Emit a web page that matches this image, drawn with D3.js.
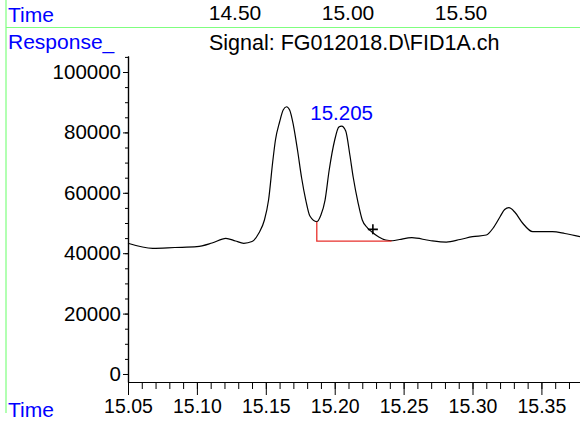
<!DOCTYPE html>
<html>
<head>
<meta charset="utf-8">
<script src="https://cdn.jsdelivr.net/npm/d3@7"></script>
<style>
  body { margin: 0; background: #fff; }
  svg text { font-family: "Liberation Sans", Arial, sans-serif; }
</style>
</head>
<body>
<svg id="chart" width="580" height="421"></svg>
<script>
// chromatogram trace (retention time, response)
const times = [15.050, 15.068, 15.084, 15.100, 15.111, 15.121, 15.128, 15.134, 15.140, 15.145,
    15.149, 15.152, 15.155, 15.157, 15.160, 15.1626, 15.165, 15.1673, 15.170, 15.173,
    15.176, 15.179, 15.182, 15.187, 15.190, 15.193, 15.196, 15.200, 15.203, 15.205,
    15.208, 15.211, 15.2134, 15.217, 15.220, 15.2239, 15.227, 15.232, 15.237, 15.242,
    15.247, 15.256, 15.269, 15.281, 15.291, 15.300, 15.310, 15.315, 15.320, 15.3233,
    15.3264, 15.3306, 15.3363, 15.3437, 15.358, 15.367, 15.378];
const responses = [43300, 41620, 41880, 42150, 43370, 44930, 44040, 43280, 43870, 46690,
    50990, 57610, 70190, 77480, 83440, 87410, 88500, 87410, 82440, 74170,
    64900, 57610, 52310, 50430, 52640, 57610, 67540, 77480, 81780, 82110,
    80460, 72510, 65230, 56620, 50990, 48340, 47020, 45360, 44360, 44130,
    44530, 45130, 44200, 43700, 44530, 45460, 46020, 48340, 52080, 54470,
    55060, 53640, 50000, 47120, 47120, 46520, 45460];

// integration baseline drawn in red
const baseTimes = [15.187, 15.187, 15.2413];
const baseValues = [50430, 44030, 44030];

const peakLabel = {time: 15.205, value: 82110, text: "15.205"};
const cursorMark = {time: 15.2277, value: 47900};

const xMajorTicks = [15.05, 15.10, 15.15, 15.20, 15.25, 15.30, 15.35];
const yMajorTicks = [0, 20000, 40000, 60000, 80000, 100000];
const overviewLabels = ["14.50", "15.00", "15.50"];

const svg = d3.select('#chart');
const green = '#7fff7f';
const blue = '#0000ff';

let x = d3.scaleLinear().domain([15.05, 15.378]).range([128, 580]);
let y = d3.scaleLinear().domain([-2650, 105300]).range([382, 56]);

// frame lines
svg.append('line').attr('x1', 6).attr('x2', 6).attr('y1', 0).attr('y2', 413)
    .attr('stroke', green).attr('stroke-width', 1.2);
svg.append('line').attr('x1', 6).attr('x2', 580).attr('y1', 27.5).attr('y2', 27.5)
    .attr('stroke', green).attr('stroke-width', 1.2);

// header texts
svg.append('text').attr('x', 8).attr('y', 21.5).attr('fill', blue)
    .style('font-size', '21px').text('Time');
svg.append('text').attr('x', 8).attr('y', 49).attr('fill', blue)
    .style('font-size', '21px').text('Response_');
svg.append('text').attr('x', 8).attr('y', 416.5).attr('fill', blue)
    .style('font-size', '21px').text('Time');

svg.selectAll('.overview').data(overviewLabels).enter().append('text')
    .attr('class', 'overview')
    .attr('x', (d, i) => 235 + i * 113)
    .attr('y', 19.5)
    .attr('text-anchor', 'middle')
    .style('font-size', '21px')
    .text(d => d);

svg.append('text').attr('x', 209).attr('y', 49.5)
    .style('font-size', '21.5px').text('Signal: FG012018.D\\FID1A.ch');

// x axis: minor then major ticks
let xMinor = d3.axisBottom(x).tickValues(d3.range(15.05, 15.3781, 0.01))
    .tickSize(7).tickSizeOuter(0).tickFormat('');
svg.append('g').attr('transform', 'translate(0,382)').call(xMinor);

let xMajor = d3.axisBottom(x).tickValues(xMajorTicks)
    .tickSize(13).tickSizeOuter(0).tickPadding(4).tickFormat(d3.format('.2f'));
let gx = svg.append('g').attr('transform', 'translate(0,382)').call(xMajor);
gx.selectAll('text').style('font-size', '19.5px').attr('fill', '#000');

// y axis
let yMinor = d3.axisLeft(y).tickValues(d3.range(0, 105001, 5000))
    .tickSize(3).tickSizeOuter(0).tickFormat('');
svg.append('g').attr('transform', 'translate(128,0)').call(yMinor);

let yMajor = d3.axisLeft(y).tickValues(yMajorTicks)
    .tickSize(5).tickSizeOuter(0).tickPadding(2).tickFormat(d3.format('d'));
let gy = svg.append('g').attr('transform', 'translate(128,0)').call(yMajor);
gy.selectAll('text').style('font-size', '20.5px').attr('fill', '#000');

svg.selectAll('.domain').attr('stroke', '#000').attr('stroke-width', 1.2);
svg.selectAll('.tick line').attr('stroke', '#000');

// trace
const trace = times.map((t, i) => ({t: t, v: responses[i]}));
let line = d3.line().x(d => x(d.t)).y(d => y(d.v)).curve(d3.curveMonotoneX);
svg.append('path').datum(trace)
    .attr('d', line)
    .attr('fill', 'none')
    .attr('stroke', '#000')
    .attr('stroke-width', 1.2);

// red baseline
const base = baseTimes.map((t, i) => ({t: t, v: baseValues[i]}));
svg.append('path').datum(base)
    .attr('d', d3.line().x(d => x(d.t)).y(d => y(d.v)))
    .attr('fill', 'none')
    .attr('stroke', '#e8302c')
    .attr('stroke-width', 1.3);

// peak label
svg.append('text')
    .attr('x', x(peakLabel.time))
    .attr('y', y(peakLabel.value) - 6)
    .attr('text-anchor', 'middle')
    .attr('fill', blue)
    .style('font-size', '20.5px')
    .text(peakLabel.text);

// cursor cross
let cx = x(cursorMark.time), cy = y(cursorMark.value);
svg.append('path')
    .attr('d', 'M' + (cx - 5) + ',' + cy + 'H' + (cx + 5) + 'M' + cx + ',' + (cy - 5) + 'V' + (cy + 5))
    .attr('stroke', '#000')
    .attr('stroke-width', 1.6);
</script>
</body>
</html>
